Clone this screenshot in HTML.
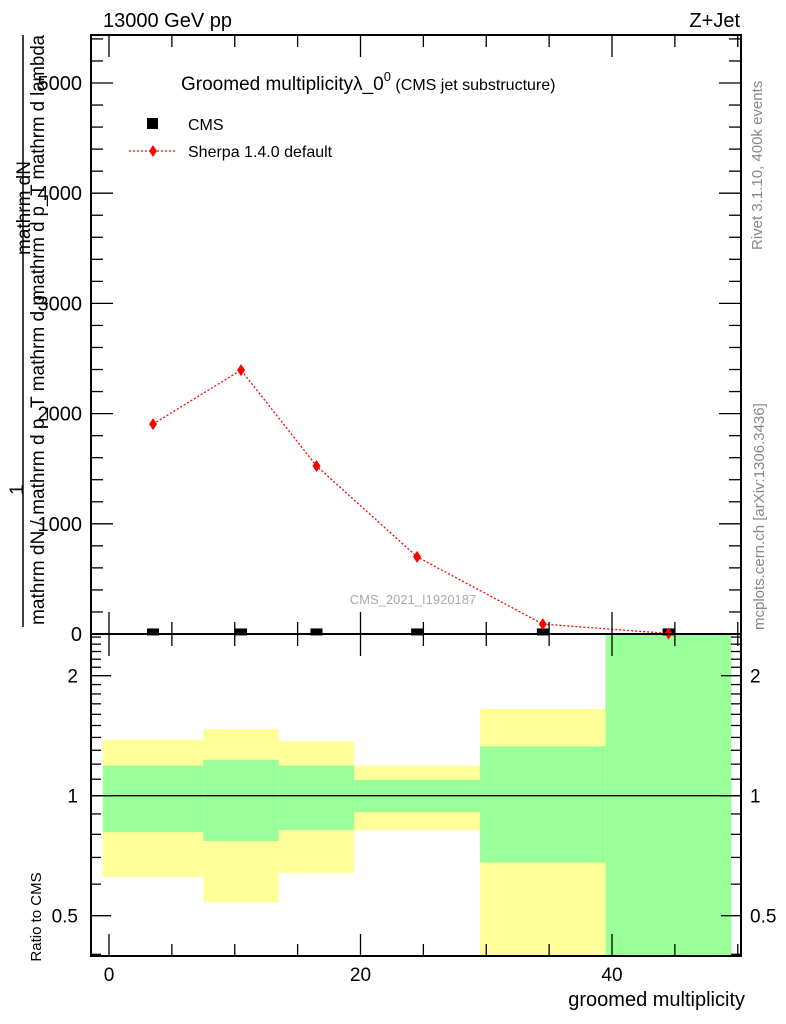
<!DOCTYPE html>
<html><head><meta charset="utf-8"><style>
html,body{margin:0;padding:0;background:#fff;}
svg{display:block;font-family:"Liberation Sans",sans-serif;}
</style></head><body>
<svg id="chart" width="786" height="1024" viewBox="0 0 786 1024">
<g id="bands"></g>
<g id="marks"></g>
<g id="axes"></g>
<text x="103" y="27" font-size="20">13000 GeV pp</text>
<text x="740" y="27" font-size="20" text-anchor="end">Z+Jet</text>
<text x="181" y="90" font-size="19">Groomed multiplicityλ_0<tspan font-size="13" dy="-9">0</tspan><tspan font-size="16" dy="9"> (CMS jet substructure)</tspan></text>
<rect x="147" y="118" width="11" height="11" fill="#000"/>
<text x="188" y="130" font-size="16">CMS</text>
<line x1="129" y1="151" x2="177" y2="151" stroke="red" stroke-width="1.3" stroke-dasharray="2,2"/>
<path d="M153,145 L157,151 L153,157 L149,151 Z" fill="red"/>
<text x="188" y="157" font-size="16">Sherpa 1.4.0 default</text>
<text x="413" y="604" font-size="13" fill="#aaa" text-anchor="middle">CMS_2021_I1920187</text>
<text transform="translate(762,250) rotate(-90)" font-size="15" fill="#888">Rivet 3.1.10,  400k events</text>
<text transform="translate(764,630) rotate(-90)" font-size="15" fill="#888">mcplots.cern.ch [arXiv:1306.3436]</text>
<text transform="translate(30,255) rotate(-90)" font-size="19">mathrm dN</text>
<text transform="translate(23,495) rotate(-90)" font-size="19">1</text>
<line x1="23" y1="35" x2="23" y2="627" stroke="#000" stroke-width="1.5"/>
<text transform="translate(44,625) rotate(-90)" font-size="19" textLength="330" lengthAdjust="spacingAndGlyphs">mathrm dN / mathrm d p_T mathrm d p</text>
<text transform="translate(44,300) rotate(-90)" font-size="19" textLength="265" lengthAdjust="spacingAndGlyphs">mathrm d p_T  mathrm d lambda</text>
<text transform="translate(41,917) rotate(-90)" font-size="15" text-anchor="middle">Ratio to CMS</text>
<text x="745" y="1006" font-size="20" text-anchor="end">groomed multiplicity</text>
</svg>
<script>
const binEdges=[-0.5,7.5,13.5,19.5,29.5,39.5,49.5];
const binCenters=[3.5,10.5,16.5,24.5,34.5,44.5];
const cmsValues=[5,5,5,5,5,5];
const sherpaValues=[1905,2395,1525,700,90,5];
const sherpaErr=[30,40,25,15,8,3];
const yellowHi=[1.38,1.47,1.37,1.19,1.65,3];
const yellowLo=[0.625,0.54,0.64,0.82,0.3,0.3];
const greenHi=[1.19,1.23,1.19,1.095,1.33,3];
const greenLo=[0.81,0.77,0.82,0.91,0.68,0.3];
const mainYTicks=[0,1000,2000,3000,4000,5000];
const xTicks=[0,20,40];
const ratioTicks=[0.5,1,2];

const NS="http://www.w3.org/2000/svg";
const L=91,R=741,T=35,MB=634,RB=956;
const xs=v=>109+(v)*12.575;
const ys=v=>MB-v*0.1102;
const rs=v=>795.7-Math.log2(v)*120;
const clampR=y=>Math.max(MB,Math.min(RB,y));
function mk(tag,attrs,parent){const e=document.createElementNS(NS,tag);for(const k in attrs)e.setAttribute(k,attrs[k]);parent.appendChild(e);return e;}
const bands=document.getElementById('bands'),marks=document.getElementById('marks'),axes=document.getElementById('axes');
for(let i=0;i<binCenters.length;i++){
  const x1=xs(binEdges[i]),x2=xs(binEdges[i+1]);
  let y1=clampR(rs(yellowHi[i])),y2=clampR(rs(yellowLo[i]));
  const yb=mk('rect',{x:x1,y:y1,width:x2-x1,height:y2-y1,fill:'#ffff99'},bands);
  
  
  y1=clampR(rs(greenHi[i]));y2=clampR(rs(greenLo[i]));
  const gb=mk('rect',{x:x1,y:y1,width:x2-x1,height:y2-y1,fill:'#99ff99'},bands);
  
  
}
const one=mk('line',{x1:L,x2:R,y1:rs(1),y2:rs(1),stroke:'#000','stroke-width':1.3},bands);


const pts=binCenters.map((c,i)=>xs(c)+','+ys(sherpaValues[i])).join(' ');
const pl=mk('polyline',{points:pts,fill:'none',stroke:'red','stroke-width':1.3,'stroke-dasharray':'2,2'},marks);


binCenters.forEach((c,i)=>{
  const cx=xs(c),cy=ys(cmsValues[i]);
  const s=mk('rect',{x:cx-6,y:cy-5,width:12,height:7,fill:'#000'},marks);
  
  
  const sy=ys(sherpaValues[i]);
  const e=mk('line',{x1:cx,x2:cx,y1:ys(sherpaValues[i]+sherpaErr[i]),y2:ys(sherpaValues[i]-sherpaErr[i]),stroke:'red','stroke-width':1.2},marks);
  
  
  const d=mk('path',{d:`M${cx},${sy-6} L${cx+4},${sy} L${cx},${sy+6} L${cx-4},${sy} Z`,fill:'red'},marks);
  
  
});
[[T,MB],[MB,RB]].forEach((p,i)=>{
  const f=mk('rect',{x:L,y:p[0],width:R-L,height:p[1]-p[0],fill:'none',stroke:'#000','stroke-width':2},axes);
  
  
});
function ln(a,b,c,d){return mk('line',{x1:a,y1:b,x2:c,y2:d,stroke:'#000','stroke-width':1.3},axes);}
for(let v=0;v<=50;v+=5){
  const x=xs(v),maj=v%20===0,len=maj?22:12;
  ln(x,T,x,T+len);ln(x,MB,x,MB-len);ln(x,MB,x,MB+len);ln(x,RB,x,RB-len);
}
xTicks.forEach(v=>{const t=mk('text',{x:xs(v),y:981,'font-size':19,'text-anchor':'middle'},axes);t.textContent=v;

});
for(let v=0;v<=5400;v+=200){
  const y=ys(v),maj=v%1000===0,len=maj?22:12;
  ln(L,y,L+len,y);ln(R,y,R-len,y);
}
mainYTicks.forEach(v=>{const t=mk('text',{x:82,y:ys(v)+7,'font-size':20,'text-anchor':'end'},axes);t.textContent=v;

});
for(let k=4;k<=25;k++){
  const v=k/10,y=rs(v);if(y<MB||y>RB)continue;
  const maj=(v===0.5||v===1||v===2),len=maj?20:10;
  ln(L,y,L+len,y);ln(R,y,R-len,y);
}
ratioTicks.forEach(v=>{
  const t=mk('text',{x:78,y:rs(v)+7,'font-size':19,'text-anchor':'end'},axes);t.textContent=v;
  
  
  const t2=mk('text',{x:750,y:rs(v)+7,'font-size':19},axes);t2.textContent=v;
  
  
});
</script>
</body></html>
